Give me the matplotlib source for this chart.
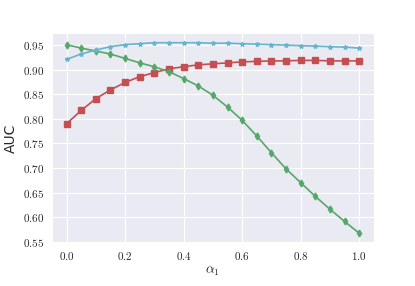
import numpy as np
import matplotlib
matplotlib.use("Agg")
import matplotlib.pyplot as plt
import seaborn as sns
from matplotlib.ticker import FuncFormatter

alpha = [0.0, 0.05, 0.1, 0.15, 0.2, 0.25, 0.3, 0.35, 0.4, 0.45, 0.5,
         0.55, 0.6, 0.65, 0.7, 0.75, 0.8, 0.85, 0.9, 0.95, 1.0]

auc_red = [0.790, 0.817, 0.841, 0.859, 0.874, 0.886, 0.894, 0.902, 0.906, 0.910, 0.912,
           0.914, 0.916, 0.917, 0.918, 0.918, 0.919, 0.919, 0.918, 0.918, 0.918]
auc_green = [0.951, 0.944, 0.938, 0.932, 0.923, 0.914, 0.906, 0.896, 0.882, 0.867, 0.848,
             0.824, 0.797, 0.765, 0.731, 0.698, 0.670, 0.642, 0.616, 0.591, 0.567]
auc_blue = [0.921, 0.932, 0.940, 0.947, 0.951, 0.953, 0.955, 0.955, 0.955, 0.955, 0.954,
            0.954, 0.953, 0.952, 0.951, 0.950, 0.949, 0.948, 0.947, 0.946, 0.944]

sns.set_style("darkgrid")
plt.rcParams["mathtext.fontset"] = "cm"

fig, ax = plt.subplots(figsize=(4.15, 2.86), dpi=100)

ax.plot(alpha, auc_red, color="#C44E52", marker="s", markersize=3.8, linewidth=1.2)
ax.plot(alpha, auc_green, color="#55A868", marker="d", markersize=3.5, linewidth=1.2)
ax.plot(alpha, auc_blue, color="#64B5CD", marker="*", markersize=3.2, linewidth=1.2)

ax.set_xticks(np.arange(0, 1.01, 0.2))
ax.set_yticks(np.arange(0.55, 0.951, 0.05))
ax.xaxis.set_major_formatter(FuncFormatter(lambda v, p: f"${v:.1f}$"))
ax.yaxis.set_major_formatter(FuncFormatter(lambda v, p: f"${v:.2f}$"))
ax.tick_params(labelsize=8, pad=2)

ax.set_xlabel(r"$\alpha_1$", fontsize=10, labelpad=1)
ax.set_ylabel("AUC", fontsize=10)

fig.subplots_adjust(left=0.125, right=0.901, bottom=0.151, top=0.884)
fig.savefig("out.png", dpi=100)
